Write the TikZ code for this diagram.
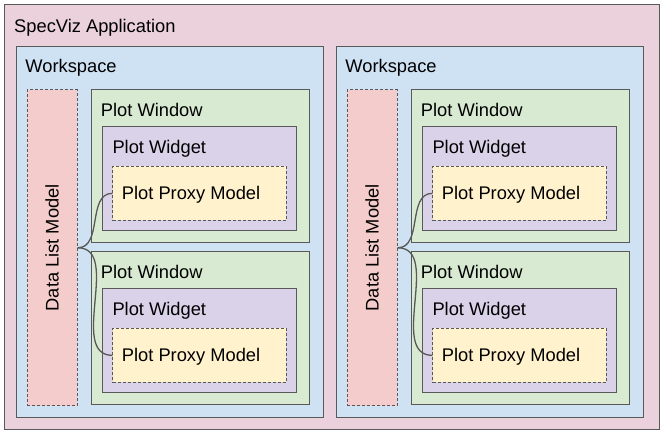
\documentclass[tikz,border=0pt]{standalone}
\usepackage{fontspec}
\setmainfont{Liberation Sans}
\usetikzlibrary{calc}
\definecolor{appfill}{HTML}{EAD1DC}
\definecolor{wsfill}{HTML}{CFE2F3}
\definecolor{dlmfill}{HTML}{F4CCCC}
\definecolor{pwfill}{HTML}{D9EAD3}
\definecolor{pwdfill}{HTML}{D9D2E9}
\definecolor{ppmfill}{HTML}{FFF2CC}
\definecolor{linegray}{HTML}{595959}

\begin{document}
\begin{tikzpicture}[x=1pt,y=-1pt]
\tikzstyle{box}=[rectangle,draw=linegray,line width=1pt,anchor=north west,inner sep=0pt]
\tikzstyle{dbox}=[box,dash pattern=on 3pt off 2pt]
\tikzstyle{lbl}=[anchor=base west,inner sep=0pt,font=\fontsize{18.3}{22}\selectfont]
\tikzstyle{conn}=[draw=linegray,line width=1.3pt]
\fill[white] (0,0) rectangle (664,435);
\useasboundingbox (0,0) rectangle (664,435);
\node[box,fill=appfill,minimum width=655,minimum height=425] (app) at (4,4) {};
\node[lbl] (applbl) at ($(app.north west)+(10,28.3)$) {SpecViz Application};
\foreach \w/\xo in {1/0,2/320}{
  \node[box,fill=wsfill,minimum width=307,minimum height=371] (ws\w) at (15.7+\xo,45.7) {};
  \node[lbl] (wslbl\w) at ($(ws\w.north west)+(9.5,26.6)$) {Workspace};
  \node[dbox,fill=dlmfill,minimum width=50,minimum height=316] (dlm\w) at (26.7+\xo,89.3) {};
  \node[lbl,anchor=center,rotate=90] (dlmlbl\w) at (dlm\w.center) {Data List Model};
  \foreach \p/\yo in {1/0,2/162}{
    \node[box,fill=pwfill,minimum width=218.6,minimum height=153] (pw\w\p) at (90.7+\xo,89.3+\yo) {};
    \node[lbl] (pwlbl\w\p) at ($(pw\w\p.north west)+(10,27.4)$) {Plot Window};
    \node[box,fill=pwdfill,minimum width=194,minimum height=104] (pwd\w\p) at (102.3+\xo,126.3+\yo) {};
    \node[lbl] (pwdlbl\w\p) at ($(pwd\w\p.north west)+(10,27)$) {Plot Widget};
    \node[dbox,fill=ppmfill,minimum width=173.4,minimum height=54.3] (ppm\w\p) at (112.3+\xo,165.7+\yo) {};
    \node[lbl] (ppmlbl\w\p) at ($(ppm\w\p.north west)+(9.4,34.3)$) {Plot Proxy Model};
    \draw[conn] (dlm\w.east) to[out=0,in=180] (ppm\w\p.west);
  }
}
\end{tikzpicture}
\end{document}
